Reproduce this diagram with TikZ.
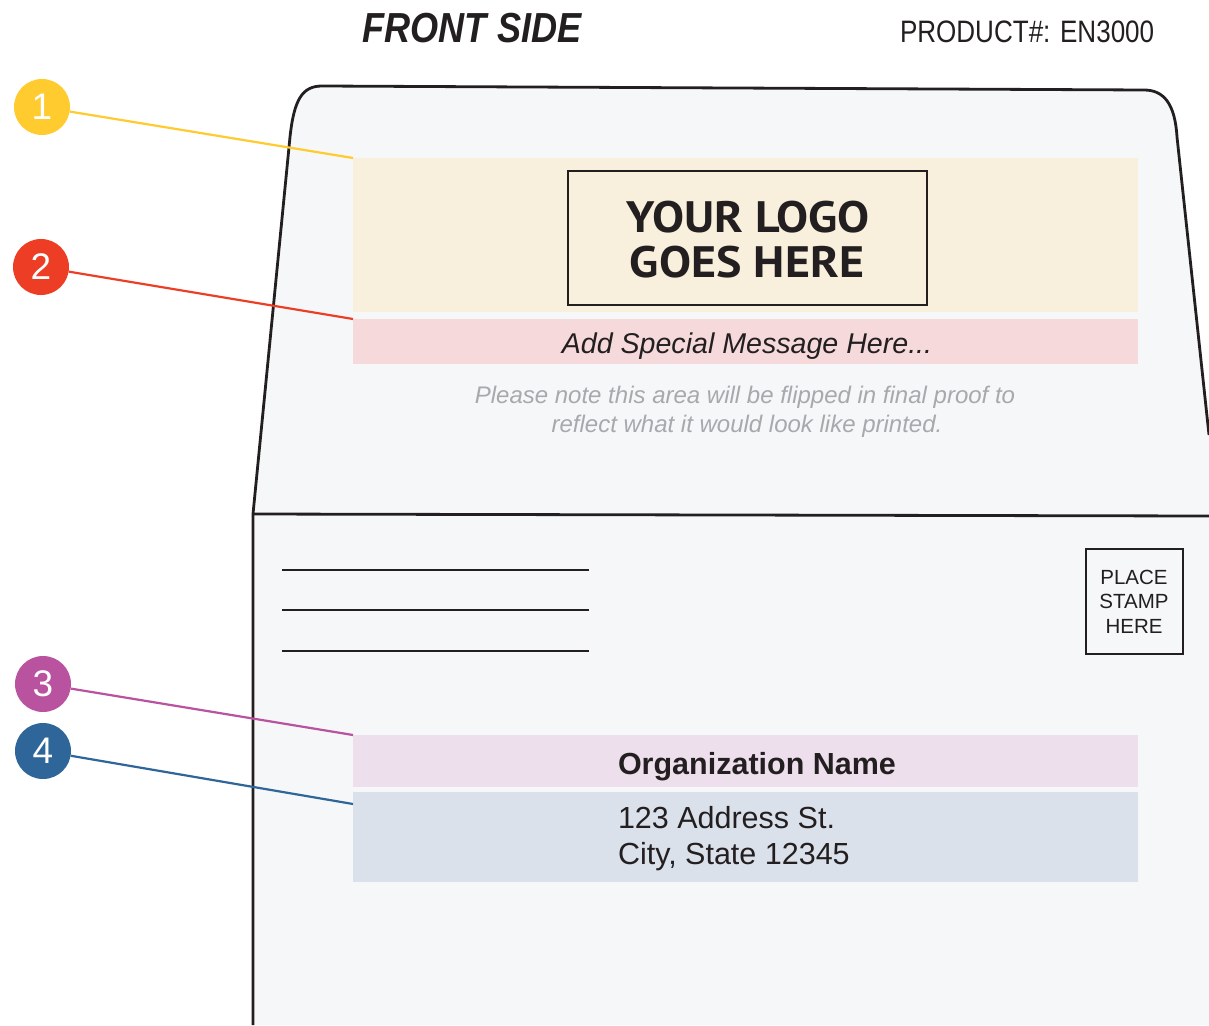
\documentclass[tikz,border=0pt]{standalone}
\usepackage{fontspec}
\setmainfont{Liberation Sans}
\newfontfamily\logofont[FakeStretch=1.09]{PT Sans}
\newfontfamily\condfont[FakeStretch=0.84]{Liberation Sans}
\newfontfamily\titlefont[FakeStretch=0.86]{Liberation Sans}
\definecolor{envfill}{HTML}{F6F7F9}
\definecolor{envstroke}{HTML}{231F20}
\definecolor{inkc}{HTML}{231F20}
\definecolor{greyc}{HTML}{A7A9AC}
\definecolor{zoneY}{HTML}{F8F0DC}
\definecolor{zoneR}{HTML}{F6DADB}
\definecolor{zoneP}{HTML}{EEDFEC}
\definecolor{zoneB}{HTML}{DAE1EA}
\definecolor{badgeY}{HTML}{FFCB2F}
\definecolor{badgeR}{HTML}{EE3D25}
\definecolor{badgeP}{HTML}{B9529F}
\definecolor{badgeB}{HTML}{2E6699}
\tikzset{
  envline/.style={draw=envstroke, line width=2.8pt, line join=round},
  zone/.style={inner sep=0pt, outer sep=0pt, anchor=north west, draw=none},
  badge/.style={circle, minimum size=56pt, inner sep=0pt, text=white, font=\fontsize{37}{37}\selectfont},
  lead/.style={line width=2.2pt},
  rulel/.style={draw=envstroke, line width=1.5pt},
  txt/.style={inner sep=0pt, outer sep=0pt, text=inkc},
}
\begin{document}
\begin{tikzpicture}[x=1pt,y=-1pt]
\useasboundingbox (0,0) rectangle (1209,1025);
\fill[white] (0,0) rectangle (1209,1025);
% envelope
\fill[envfill] (252,514) -- (290,137) .. controls (294,100) and (302,86) .. (322,86) -- (1144,90) .. controls (1164,90) and (1175,104) .. (1177,137) -- (1209,435) -- (1209,1025) -- (253,1025) -- cycle;
\draw[envline] (253,1025) -- (253,514) -- (290,137) .. controls (294,100) and (302,86) .. (322,86) -- (1144,90) .. controls (1164,90) and (1175,104) .. (1177,137) -- (1209,435);
\draw[envline] (252,514) -- (1209,516);
% titles
\node[txt, anchor=base, font=\titlefont\bfseries\itshape\fontsize{42}{42}\selectfont] (title) at (472,43) {FRONT SIDE};
\node[txt, anchor=base west, font=\condfont\fontsize{31}{31}\selectfont] (prod) at (900,43) {PRODUCT\#: EN3000};
% zones
\node[zone, fill=zoneY, minimum width=785pt, minimum height=154pt] (logoarea) at (353,158) {};
\node[zone, fill=zoneR, minimum width=785pt, minimum height=45pt] (msgarea) at (353,319) {};
\node[zone, fill=zoneP, minimum width=785pt, minimum height=52pt] (orgarea) at (353,735) {};
\node[zone, fill=zoneB, minimum width=785pt, minimum height=90pt] (addrarea) at (353,792) {};
% logo box
\node[zone, draw=envstroke, line width=2.6pt, minimum width=359pt, minimum height=134pt] (logobox) at (568,171) {};
\node[txt, anchor=base, font=\logofont\bfseries\fontsize{44}{44}\selectfont] (logo1) at (748,232) {YOUR LOGO};
\node[txt, anchor=base, font=\logofont\bfseries\fontsize{44}{44}\selectfont] (logo2) at (747,277) {GOES HERE};
% message
\node[txt, anchor=base, font=\itshape\fontsize{28.6}{28.6}\selectfont] (msg) at (747,353) {Add Special Message Here...};
\node[txt, anchor=base, text=greyc, font=\itshape\fontsize{24}{24}\selectfont] (note1) at (745,403) {Please note this area will be flipped in final proof to};
\node[txt, anchor=base, text=greyc, font=\itshape\fontsize{24}{24}\selectfont] (note2) at (747,432) {reflect what it would look like printed.};
% return address lines
\coordinate (r1a) at (282,570); \coordinate (r1b) at (589,570);
\coordinate (r2a) at (282,610); \coordinate (r2b) at (589,610);
\coordinate (r3a) at (282,651); \coordinate (r3b) at (589,651);
\draw[rulel] (r1a) -- (r1b);
\draw[rulel] (r2a) -- (r2b);
\draw[rulel] (r3a) -- (r3b);
% stamp
\node[zone, draw=envstroke, line width=1.3pt, minimum width=97pt, minimum height=105pt] (stamp) at (1086,549) {};
\node[txt, anchor=base, font=\fontsize{20.5}{20.5}\selectfont] (st1) at (1134,584) {PLACE};
\node[txt, anchor=base, font=\fontsize{20.5}{20.5}\selectfont] (st2) at (1134,608) {STAMP};
\node[txt, anchor=base, font=\fontsize{20.5}{20.5}\selectfont] (st3) at (1134,633) {HERE};
% recipient
\node[txt, anchor=base west, font=\bfseries\fontsize{30.5}{30.5}\selectfont] (org) at (618,774) {Organization Name};
\node[txt, anchor=base west, font=\fontsize{30.5}{30.5}\selectfont] (addr1) at (618,828) {123 Address St.};
\node[txt, anchor=base west, font=\fontsize{30.5}{30.5}\selectfont] (addr2) at (618,864) {City, State 12345};
% badges
\node[badge, fill=badgeY] (b1) at (42,107) {1};
\node[badge, fill=badgeR] (b2) at (41,267) {2};
\node[badge, fill=badgeP] (b3) at (43,684) {3};
\node[badge, fill=badgeB] (b4) at (43,751) {4};
\coordinate (a4) at (353,804);
\draw[lead, draw=badgeY] (b1) -- (logoarea.north west);
\draw[lead, draw=badgeR] (b2) -- (msgarea.north west);
\draw[lead, draw=badgeP] (b3) -- (orgarea.north west);
\draw[lead, draw=badgeB] (b4) -- (a4);
\end{tikzpicture}
\end{document}
